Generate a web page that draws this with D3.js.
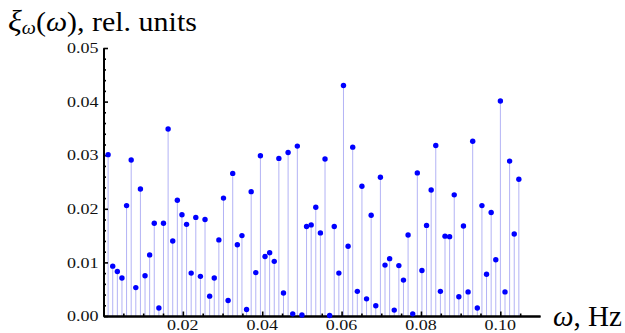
<!DOCTYPE html>
<html>
<head>
<meta charset="utf-8">
<script src="https://cdn.jsdelivr.net/npm/d3@7"></script>
<style>
  html, body { margin: 0; padding: 0; background: #fff; }
  svg { display: block; }
  .serif { font-family: "Liberation Serif", "Times New Roman", Times, serif; }
</style>
</head>
<body>
<svg id="chart" width="625" height="333"></svg>
<script>
// ---- data ----
const freqStep = 0.001163; // Hz, spacing of spectral bins
const values = [
  0.0301, 0.0093, 0.0083, 0.0071, 0.0206, 0.0291, 0.0053, 0.0237, 0.0075, 0.0114,
  0.0173, 0.0015, 0.0173, 0.0349, 0.0140, 0.0216, 0.0189, 0.0171, 0.0080, 0.0184,
  0.0074, 0.0180, 0.0037, 0.0071, 0.0142, 0.0220, 0.0029, 0.0266, 0.0133, 0.0150,
  0.0012, 0.0232, 0.0081, 0.0299, 0.0111, 0.0118, 0.0102, 0.0294, 0.0043, 0.0305,
  0.0004, 0.0317, 0.0002, 0.0167, 0.0170, 0.0203, 0.0155, 0.0293, 0.0001, 0.0167,
  0.0080, 0.0430, 0.0130, 0.0315, 0.0046, 0.0242, 0.0032, 0.0188, 0.0019, 0.0259,
  0.0095, 0.0107, 0.0011, 0.0094, 0.0067, 0.0151, 0.0004, 0.0267, 0.0085, 0.0169,
  0.0235, 0.0318, 0.0046, 0.0149, 0.0148, 0.0226, 0.0036, 0.0168, 0.0045, 0.0326,
  0.0015, 0.0206, 0.0078, 0.0193, 0.0105, 0.0401, 0.0045, 0.0289, 0.0153, 0.0255
];
const binIndex = d3.range(1, values.length + 1);
const xMajorTicks = [0.02, 0.04, 0.06, 0.08, 0.10];
const xTickLabels = ["0.02", "0.04", "0.06", "0.08", "0.10"];
const xMinorTicks = [0.005, 0.01, 0.015, 0.025, 0.03, 0.035, 0.045, 0.05, 0.055,
                     0.065, 0.07, 0.075, 0.085, 0.09, 0.095, 0.105];
const yMajorTicks = [0.00, 0.01, 0.02, 0.03, 0.04, 0.05];
const yTickLabels = ["0.00", "0.01", "0.02", "0.03", "0.04", "0.05"];
const yMinorTicks = [0.002, 0.004, 0.006, 0.008, 0.012, 0.014, 0.016, 0.018,
                     0.022, 0.024, 0.026, 0.028, 0.032, 0.034, 0.036, 0.038,
                     0.042, 0.044, 0.046, 0.048];
const points = binIndex.map((k, i) => ({ f: k * freqStep, v: values[i] }));

// ---- layout ----
const svg = d3.select("#chart");
const x = d3.scaleLinear().domain([0, 0.11]).range([103.5, 540]);
const y = d3.scaleLinear().domain([0, 0.05]).range([316, 48]);

// stems
svg.append("g").selectAll("line").data(points).join("line")
  .attr("x1", d => x(d.f)).attr("x2", d => x(d.f))
  .attr("y1", y(0)).attr("y2", d => y(d.v))
  .attr("stroke", "#b3b3f5").attr("stroke-width", 1);

// axes
function styleAxis(g, w) {
  g.select(".domain").attr("stroke", "#000").attr("stroke-width", w);
  g.selectAll(".tick line").attr("stroke", "#000").attr("stroke-width", 1.6);
  g.selectAll(".tick text").remove();
}
svg.append("g").attr("transform", `translate(0,${y(0)})`)
  .call(d3.axisBottom(x).tickValues(xMinorTicks).tickSize(-2.5).tickSizeOuter(0))
  .call(g => styleAxis(g, 2));
svg.append("g").attr("transform", `translate(0,${y(0)})`)
  .call(d3.axisBottom(x).tickValues(xMajorTicks).tickSize(-4.5).tickSizeOuter(0))
  .call(g => styleAxis(g, 2));
svg.append("g").attr("transform", `translate(${x(0)},0)`)
  .call(d3.axisLeft(y).tickValues(yMinorTicks).tickSize(-2.5).tickSizeOuter(0))
  .call(g => styleAxis(g, 2));
svg.append("g").attr("transform", `translate(${x(0)},0)`)
  .call(d3.axisLeft(y).tickValues(yMajorTicks).tickSize(-4.5).tickSizeOuter(0))
  .call(g => styleAxis(g, 2));

// dots
svg.append("g").selectAll("circle").data(points).join("circle")
  .attr("cx", d => x(d.f)).attr("cy", d => y(d.v)).attr("r", 2.7)
  .attr("fill", "#0000ff");

// helper: horizontally stretch a text to a target width
function fitWidth(sel, target, anchorX, anchorY) {
  const w = sel.node().getComputedTextLength();
  const s = target / w;
  sel.attr("x", 0).attr("y", 0)
     .attr("transform", `translate(${anchorX},${anchorY}) scale(${s},1)`);
}

// tick labels
const tickFont = 15.5;
const tmp = svg.append("text").attr("class", "serif").attr("font-size", tickFont).text("0.05");
const tickScale = 31.5 / tmp.node().getComputedTextLength();
tmp.remove();

yMajorTicks.forEach((t, i) => {
  svg.append("text").attr("class", "serif").attr("font-size", tickFont)
    .attr("text-anchor", "end").attr("fill", "#111")
    .attr("transform", `translate(98.5,${y(t) + 5.2}) scale(${tickScale},1)`)
    .text(yTickLabels[i]);
});
xMajorTicks.forEach((t, i) => {
  svg.append("text").attr("class", "serif").attr("font-size", tickFont)
    .attr("text-anchor", "middle").attr("fill", "#111")
    .attr("transform", `translate(${x(t)},329.5) scale(${tickScale},1)`)
    .text(xTickLabels[i]);
});

// title
const title = svg.append("text").attr("class", "serif").attr("font-size", 27).attr("fill", "#000");
title.append("tspan").attr("font-style", "italic").attr("font-size", 29).text("ξ");
title.append("tspan").attr("font-style", "italic").attr("font-size", 18).attr("dy", 3).text("ω");
title.append("tspan").attr("dy", -3).text("(");
title.append("tspan").attr("font-style", "italic").text("ω");
title.append("tspan").text("), rel. units");
fitWidth(title, 189, 8, 31);

// x axis label
const xl = svg.append("text").attr("class", "serif").attr("font-size", 29).attr("fill", "#000");
xl.append("tspan").attr("font-style", "italic").text("ω");
xl.append("tspan").text(", Hz");
fitWidth(xl, 69, 553, 326);
</script>
</body>
</html>
